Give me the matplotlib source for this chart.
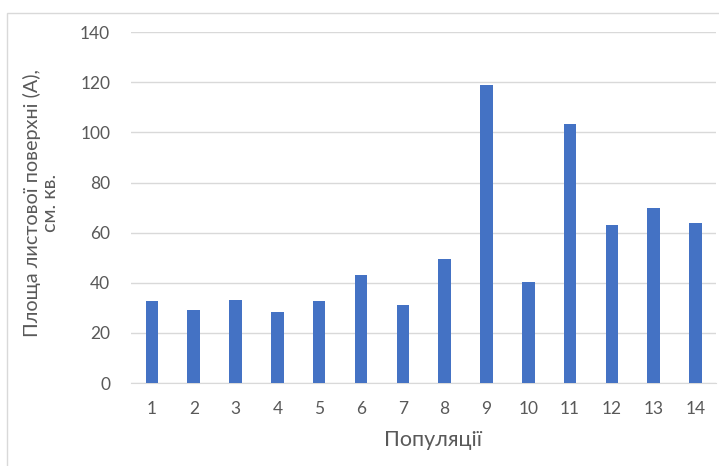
import matplotlib
matplotlib.use("Agg")
import matplotlib.pyplot as plt
from matplotlib.patches import Rectangle

populations = [str(i) for i in range(1, 15)]
leaf_area = [32.9, 29.3, 33.1, 28.5, 32.9, 43.3, 31.1, 49.5, 118.9, 40.2, 103.3, 62.9, 69.8, 63.7]
y_ticks = [0, 20, 40, 60, 80, 100, 120, 140]

plt.rcParams['font.family'] = ['Lato', 'DejaVu Sans']

W, H = 719, 466
fig = plt.figure(figsize=(W / 100, H / 100), dpi=100)

# chart frame
fig.patches.append(Rectangle((7 / W, -0.05), 1.0, 1 - 13 / H + 0.05,
                             transform=fig.transFigure, fill=False,
                             edgecolor='#d9d9d9', linewidth=1.0))

ax = fig.add_axes([131 / W, (H - 383) / H, (716.4 - 131) / W, (383 - 32.2) / H])
x = list(range(len(populations)))
ax.bar(x, leaf_area, width=0.30, color='#4472C4', zorder=3)
ax.set_xlim(-0.5, len(populations) - 0.5)
ax.set_ylim(0, 140)
ax.set_yticks(y_ticks)
ax.set_xticks(x)
ax.set_xticklabels(populations)
ax.grid(axis='y', color='#d9d9d9', linewidth=1.0, zorder=0)
for s in ['top', 'right', 'left']:
    ax.spines[s].set_visible(False)
ax.spines['bottom'].set_color('#d9d9d9')
ax.tick_params(axis='both', length=0, labelsize=12.5, colors='#595959')
ax.tick_params(axis='x', pad=13)
ax.tick_params(axis='y', pad=15)

fig.text(433 / W, (H - 440) / H, 'Популяції', ha='center', va='center',
         fontsize=15.5, color='#595959')
fig.text(41 / W, (H - 203) / H, 'Площа листової поверхні (А),\nсм. кв.',
         ha='center', va='center', rotation=90, multialignment='center',
         fontsize=14.3, color='#595959', linespacing=1.1)

fig.savefig('out.png', dpi=100)
